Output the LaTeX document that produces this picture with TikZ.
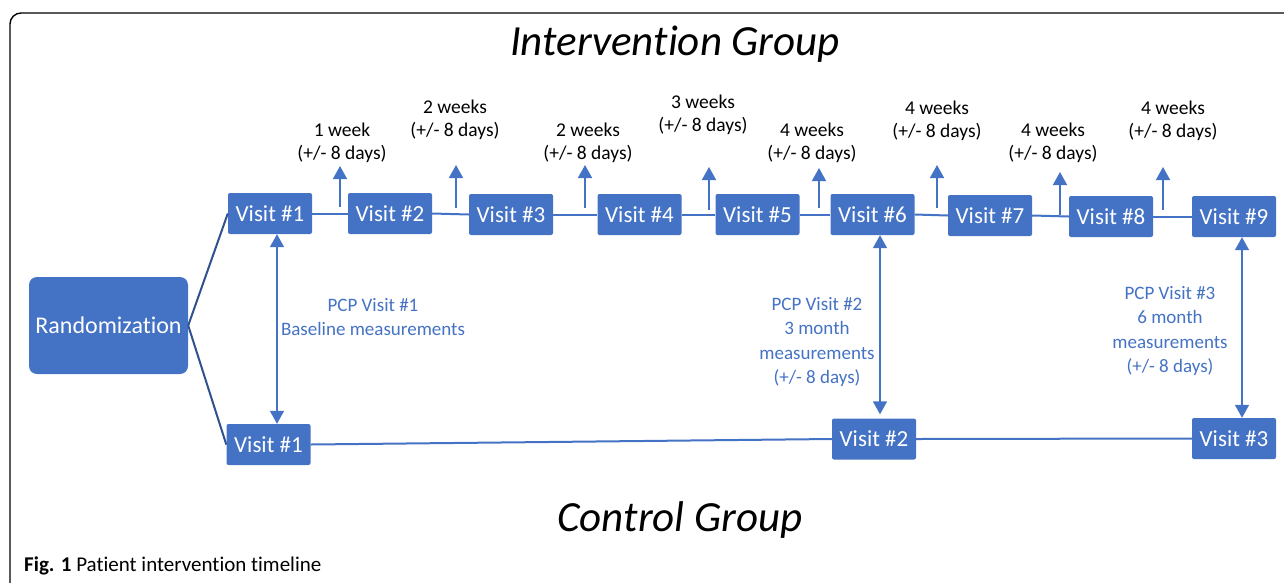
\documentclass[tikz,border=0pt]{standalone}
\usepackage{fontspec}
\setmainfont[Ligatures={NoCommon}]{Carlito}
\usetikzlibrary{arrows.meta,calc}
\definecolor{boxblue}{HTML}{4472C4}
\definecolor{lineblue}{HTML}{4472C4}
\definecolor{darkblue}{HTML}{2F528F}
\tikzset{
  visitbox/.style={fill=boxblue, rounded corners=2pt, minimum width=84pt, minimum height=41pt, inner sep=0pt, text=white, font=\fontsize{23}{27}\selectfont},
  randbox/.style={fill=boxblue, rounded corners=8pt, minimum width=159pt, minimum height=97pt, inner sep=0pt, text=white, font=\fontsize{24}{28}\selectfont},
  conn/.style={draw=lineblue, line width=2pt},
  randconn/.style={draw=darkblue, line width=2pt},
  uparrow/.style={draw=lineblue, line width=1.6pt, -{Triangle[width=14pt,length=13pt]}},
  dblarrow/.style={draw=lineblue, line width=1.6pt, {Triangle[width=14pt,length=13pt]}-{Triangle[width=14pt,length=13pt]}},
  timelabel/.style={align=center, text=black, font=\fontsize{19.5}{23.5}\selectfont, inner sep=0pt},
  pcplabel/.style={align=center, text=lineblue, font=\fontsize{19}{24.3}\selectfont, inner sep=0pt},
  grouptitle/.style={font=\fontsize{43}{46}\selectfont\itshape, inner sep=0pt},
}
\begin{document}
\begin{tikzpicture}[x=1pt,y=-1pt]
\useasboundingbox (0,0) rectangle (1284,582);
\clip (0,0) rectangle (1284,582);
% frame
\draw[line width=1.4pt, rounded corners=11pt] (10,13) rectangle (1320,640);

% titles
\node[grouptitle] (tint) at (675,44) {Intervention Group};
\node[grouptitle] (tctl) at (680,520) {Control Group};

% randomization
\node[randbox] (rand) at (108.5,325.5) {Randomization};

% intervention row
\node[visitbox] (v1) at (270,213.5) {Visit \#1};
\node[visitbox] (v2) at (390,213.5) {Visit \#2};
\node[visitbox] (v3) at (511,214.5) {Visit \#3};
\node[visitbox] (v4) at (639.5,214.5) {Visit \#4};
\node[visitbox] (v5) at (757.5,214.5) {Visit \#5};
\node[visitbox] (v6) at (872.5,214.5) {Visit \#6};
\node[visitbox] (v7) at (990,215.5) {Visit \#7};
\node[visitbox] (v8) at (1111,216.5) {Visit \#8};
\node[visitbox] (v9) at (1234,216.5) {Visit \#9};

% control row
\node[visitbox] (c1) at (268.5,444.5) {Visit \#1};
\node[visitbox] (c2) at (874,439) {Visit \#2};
\node[visitbox] (c3) at (1234,438.5) {Visit \#3};

% connectors
\draw[randconn] (rand.east) -- (v1.west);
\draw[randconn] (rand.east) -- (c1.west);
\draw[conn] (v1.east) -- (v2.west);
\draw[conn] (v2.east) -- (v3.west);
\draw[conn] (v3.east) -- (v4.west);
\draw[conn] (v4.east) -- (v5.west);
\draw[conn] (v5.east) -- (v6.west);
\draw[conn] (v6.east) -- (v7.west);
\draw[conn] (v7.east) -- (v8.west);
\draw[conn] (v8.east) -- (v9.west);
\draw[conn] (c1.east) -- (c2.west);
\draw[conn] (c2.east) -- (c3.west);

% interval arrows
\coordinate (a1s) at (340,207); \coordinate (a1e) at (340,166);
\coordinate (a2s) at (456,208); \coordinate (a2e) at (456,165);
\coordinate (a3s) at (585,208); \coordinate (a3e) at (585,165);
\coordinate (a4s) at (709,210); \coordinate (a4e) at (709,167);
\coordinate (a5s) at (819,208); \coordinate (a5e) at (819,168);
\coordinate (a6s) at (937,208); \coordinate (a6e) at (937,165);
\coordinate (a7s) at (1060,215); \coordinate (a7e) at (1060,172);
\coordinate (a8s) at (1163,210); \coordinate (a8e) at (1163,167);
\foreach \i in {1,...,8} {\draw[uparrow] (a\i s) -- (a\i e);}

% interval labels
\node[timelabel] (l1) at (342,143) {1 week\\(+/- 8 days)};
\node[timelabel] (l2) at (455,120) {2 weeks\\(+/- 8 days)};
\node[timelabel] (l3) at (588,143) {2 weeks\\(+/- 8 days)};
\node[timelabel] (l4) at (703,115) {3 weeks\\(+/- 8 days)};
\node[timelabel] (l5) at (812,143) {4 weeks\\(+/- 8 days)};
\node[timelabel] (l6) at (937,121) {4 weeks\\(+/- 8 days)};
\node[timelabel] (l7) at (1053,143) {4 weeks\\(+/- 8 days)};
\node[timelabel] (l8) at (1173,121) {4 weeks\\(+/- 8 days)};

% PCP arrows
\draw[dblarrow] (277,0 |- v1.south) -- (277,0 |- c1.north);
\draw[dblarrow, shorten >=4pt] (880,0 |- v6.south) -- (880,0 |- c2.north);
\draw[dblarrow] (1242,0 |- v9.south) -- (1242,0 |- c3.north);

% PCP labels
\node[pcplabel] (p1) at (373,317) {PCP Visit \#1\\Baseline measurements};
\node[pcplabel] (p2) at (817,342) {PCP Visit \#2\\3 month\\measurements\\(+/- 8 days)};
\node[pcplabel] (p3) at (1170,331) {PCP Visit \#3\\6 month\\measurements\\(+/- 8 days)};

% caption
\node[anchor=west, inner sep=0pt, font=\fontsize{21}{23}\selectfont] (cap) at (24,566) {\textbf{Fig. 1} Patient intervention timeline};
\end{tikzpicture}
\end{document}
